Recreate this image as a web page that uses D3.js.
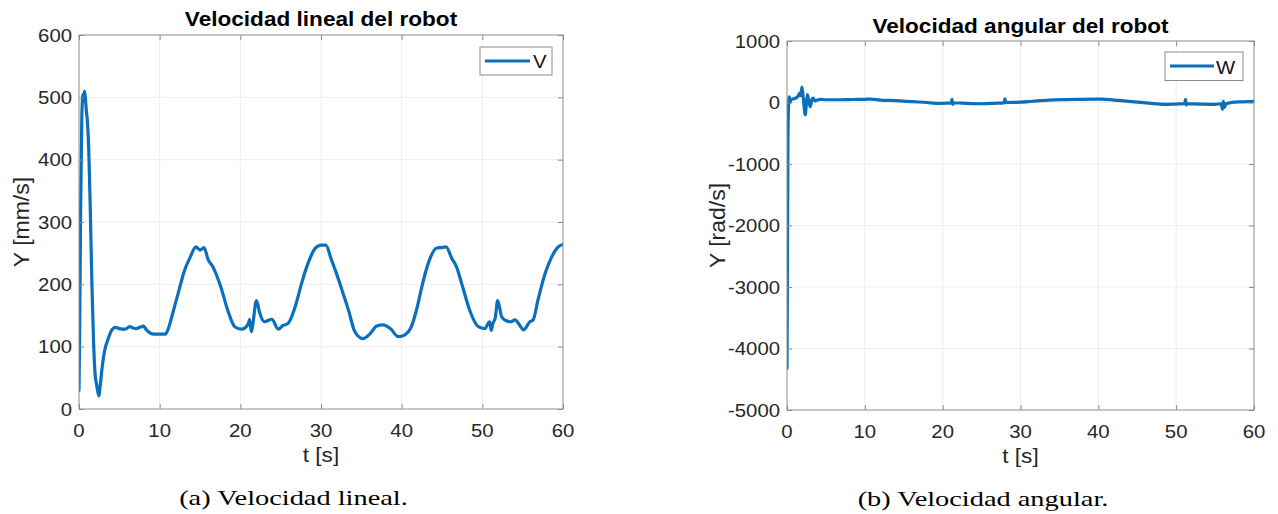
<!DOCTYPE html>
<html>
<head>
<meta charset="utf-8">
<script src="https://cdn.jsdelivr.net/npm/d3@7"></script>
<style>
  body { margin: 0; background: #fff; }
  svg { display: block; }
</style>
</head>
<body>
<div class="containers"></div>
<script>
// eje de tiempo compartido
const timeTicks = [0, 10, 20, 30, 40, 50, 60]
const linealTicks = [0, 100, 200, 300, 400, 500, 600]
const angularTicks = [-5000, -4000, -3000, -2000, -1000, 0, 1000]

// [t (s), V (mm/s)]
const linealData = [
  [0, 30], [0.08, 120], [0.2, 320], [0.35, 470], [0.5, 505], [0.6, 495], [0.68, 510], [0.78, 500],
  [0.9, 480], [1.05, 460], [1.2, 420], [1.4, 320], [1.6, 200], [1.8, 110], [2.0, 55], [2.2, 38],
  [2.45, 21], [2.65, 40], [2.9, 70], [3.2, 95], [3.6, 112], [4.0, 125], [4.5, 131], [5.0, 129],
  [5.7, 128], [6.3, 132], [6.7, 130], [7.1, 129], [7.5, 131], [8.0, 133], [8.3, 128], [8.6, 124],
  [9.2, 120], [10.0, 120], [10.7, 120], [11.1, 130], [11.5, 148], [12.3, 186], [13.1, 223],
  [13.8, 244], [14.5, 260], [15.0, 255], [15.5, 259], [16.0, 240], [16.6, 228], [17.5, 199],
  [18.5, 156], [19.3, 132], [20.2, 128], [21.0, 137], [21.15, 144], [21.35, 124], [21.5, 132],
  [22.0, 174], [22.4, 154], [23.0, 140], [23.9, 144], [24.7, 128], [25.3, 134], [25.9, 137],
  [26.8, 164], [27.6, 202], [28.4, 234], [29.3, 258], [30.0, 263], [30.6, 263], [31.3, 239],
  [31.9, 218], [32.6, 191], [33.4, 159], [34.2, 124], [35.2, 113], [36.1, 121], [36.9, 133],
  [37.7, 135], [38.6, 129], [39.6, 116], [40.4, 119], [41.2, 132], [41.9, 162], [42.5, 196],
  [43.3, 234], [44.3, 258], [44.9, 259], [45.5, 260], [46.2, 242], [46.8, 228], [47.6, 194],
  [48.5, 156], [49.5, 132], [50.3, 129], [50.9, 140], [51.1, 126], [51.3, 137], [51.6, 146],
  [51.9, 174], [52.4, 148], [52.9, 142], [53.5, 140], [54.05, 143], [54.6, 135], [55.1, 127],
  [55.9, 140], [56.3, 143], [56.9, 175], [57.8, 218], [58.6, 244], [59.4, 260], [60, 264]
]

// [t (s), W (rad/s)]
const angularData = [
  [0, -4320], [0.12, -600], [0.2, -50], [0.3, 90], [0.38, 0], [0.5, 40], [0.8, 60], [1.1, 70],
  [1.4, 100], [1.6, 150], [1.75, 110], [1.92, 250], [2.1, 60], [2.35, -200], [2.5, 0], [2.62, 130],
  [2.8, 20], [2.99, -70], [3.2, 50], [3.35, 70], [3.6, 25], [3.9, 40], [4.3, 52], [5, 45], [6, 45],
  [7, 45], [8, 48], [9, 50], [10, 52], [10.7, 55], [12, 40], [14, 30], [16.2, 13], [18, 0],
  [19.2, -13], [20.5, -10], [21.1, -5], [21.2, 50], [21.3, -30], [21.4, -5], [22.5, -10],
  [24.6, -20], [26.5, -13], [27.9, -5], [28, 60], [28.1, 0], [29.3, 3], [30, 5], [31.5, 20],
  [33.6, 40], [35.5, 48], [37.8, 52], [40.4, 55], [42, 40], [44.3, 13], [46.5, -10], [48.5, -30],
  [50, -25], [51.1, -20], [51.2, 50], [51.3, -40], [51.4, -20], [53, -25], [55, -30], [55.8, -20],
  [55.95, -110], [56.05, 20], [56.2, -80], [56.4, -20], [58, 10], [59.2, 13], [60, 20]
]

const width = 1278
const height = 514
const lineColor = '#0b6fbb'
const axisColor = '#8c8c8c'
const gridColor = '#ededed'
const textColor = '#262626'
const stretch = 1.13 // la imagen original esta estirada en horizontal
const sans = '"Liberation Sans", Arial, Helvetica, sans-serif'
const serif = '"Liberation Serif", "Times New Roman", serif'

const svg = d3
  .select('.containers')
  .append('svg')
  .attr('width', width)
  .attr('height', height)
  .attr('viewBox', [0, 0, width, height])

const panels = [
  {
    left: 79, right: 563, top: 35, bottom: 409,
    yTicks: linealTicks, data: linealData,
    title: 'Velocidad lineal del robot', titleY: 26,
    yLabel: 'Y [mm/s]', yLabelX: 28.5, yTickX: 72, xTickY: 437, xLabelY: 462,
    legend: 'V', legendBox: [480, 47, 72, 28], legendLine: [485, 530, 61], legendText: [533, 68],
    caption: '(a) Velocidad lineal.', captionX: 293.5, captionY: 505
  },
  {
    left: 787, right: 1254, top: 41, bottom: 410,
    yTicks: angularTicks, data: angularData,
    title: 'Velocidad angular del robot', titleY: 33,
    yLabel: 'Y [rad/s]', yLabelX: 725, yTickX: 780, xTickY: 438, xLabelY: 463,
    legend: 'W', legendBox: [1165, 52, 78, 28.5], legendLine: [1170, 1214, 66], legendText: [1216, 74],
    caption: '(b) Velocidad angular.', captionX: 983, captionY: 506
  }
]

const addText = (g, str, x, y, opts) => {
  const t = g
    .append('text')
    .attr('transform', `translate(${x},${y}) ${opts.rotate ? 'rotate(-90) scale(1.15,' + stretch + ')' : 'scale(' + (opts.sx || stretch) + ',1)'}`)
    .attr('text-anchor', opts.anchor || 'middle')
    .attr('font-family', opts.family || sans)
    .attr('font-size', opts.size)
    .attr('font-weight', opts.weight || 'normal')
    .attr('fill', opts.fill || textColor)
    .text(str)
  return t
}

panels.forEach((p, i) => {
  const x = d3.scaleLinear().domain([0, 60]).range([p.left, p.right])
  const y = d3.scaleLinear().domain(d3.extent(p.yTicks)).range([p.bottom, p.top])
  const g = svg.append('g').attr('class', 'panel')

  // rejilla
  g.append('g')
    .selectAll('line')
    .data(timeTicks.slice(1, -1))
    .join('line')
    .attr('x1', d => x(d)).attr('x2', d => x(d))
    .attr('y1', p.top).attr('y2', p.bottom)
    .attr('stroke', gridColor)
  g.append('g')
    .selectAll('line')
    .data(p.yTicks.slice(1, -1))
    .join('line')
    .attr('y1', d => y(d)).attr('y2', d => y(d))
    .attr('x1', p.left).attr('x2', p.right)
    .attr('stroke', gridColor)

  // curva
  g.append('clipPath').attr('id', 'clip' + i)
    .append('rect')
    .attr('x', p.left).attr('y', p.top)
    .attr('width', p.right - p.left).attr('height', p.bottom - p.top)

  const line = d3.line()
    .curve(d3.curveMonotoneX)
    .x(d => x(d[0]))
    .y(d => y(d[1]))
  g.append('path')
    .datum(p.data)
    .attr('clip-path', `url(#clip${i})`)
    .attr('d', line)
    .attr('fill', 'none')
    .attr('stroke', lineColor)
    .attr('stroke-width', 3.2)
    .attr('stroke-linejoin', 'round')
    .attr('stroke-linecap', 'round')

  // caja y marcas hacia dentro
  g.append('rect')
    .attr('x', p.left).attr('y', p.top)
    .attr('width', p.right - p.left).attr('height', p.bottom - p.top)
    .attr('fill', 'none')
    .attr('stroke', axisColor)

  const axes = [
    [d3.axisBottom(x).tickValues(timeTicks), `translate(0,${p.bottom})`],
    [d3.axisTop(x).tickValues(timeTicks), `translate(0,${p.top})`],
    [d3.axisLeft(y).tickValues(p.yTicks), `translate(${p.left},0)`],
    [d3.axisRight(y).tickValues(p.yTicks), `translate(${p.right},0)`]
  ]
  axes.forEach(([ax, tr]) => {
    const a = g.append('g')
      .attr('transform', tr)
      .call(ax.tickSize(-5).tickFormat(''))
    a.select('.domain').remove()
    a.selectAll('line').attr('stroke', axisColor)
  })

  // etiquetas de marcas
  const tl = g.append('g')
  timeTicks.forEach(d => addText(tl, d, x(d), p.xTickY, { size: 18 }))
  p.yTicks.forEach(d => addText(tl, d, p.yTickX, y(d) + 6.5, { size: 18, anchor: 'end' }))

  // titulos
  addText(g, p.title, (p.left + p.right) / 2, p.titleY, { size: 20, weight: 'bold', fill: '#000' })
  addText(g, 't [s]', (p.left + p.right) / 2, p.xLabelY, { size: 20 })
  addText(g, p.yLabel, p.yLabelX, (p.top + p.bottom) / 2, { size: 20, rotate: true })

  // leyenda
  const [bx, by, bw, bh] = p.legendBox
  g.append('rect')
    .attr('x', bx).attr('y', by).attr('width', bw).attr('height', bh)
    .attr('fill', '#fff').attr('stroke', axisColor)
  g.append('line')
    .attr('x1', p.legendLine[0]).attr('x2', p.legendLine[1])
    .attr('y1', p.legendLine[2]).attr('y2', p.legendLine[2])
    .attr('stroke', lineColor).attr('stroke-width', 3)
  addText(g, p.legend, p.legendText[0], p.legendText[1], { size: 18, anchor: 'start', fill: '#111' })

  // pie de figura
  addText(g, p.caption, p.captionX, p.captionY, { size: 22, family: serif, sx: 1.29, fill: '#000' })
})
</script>
</body>
</html>
